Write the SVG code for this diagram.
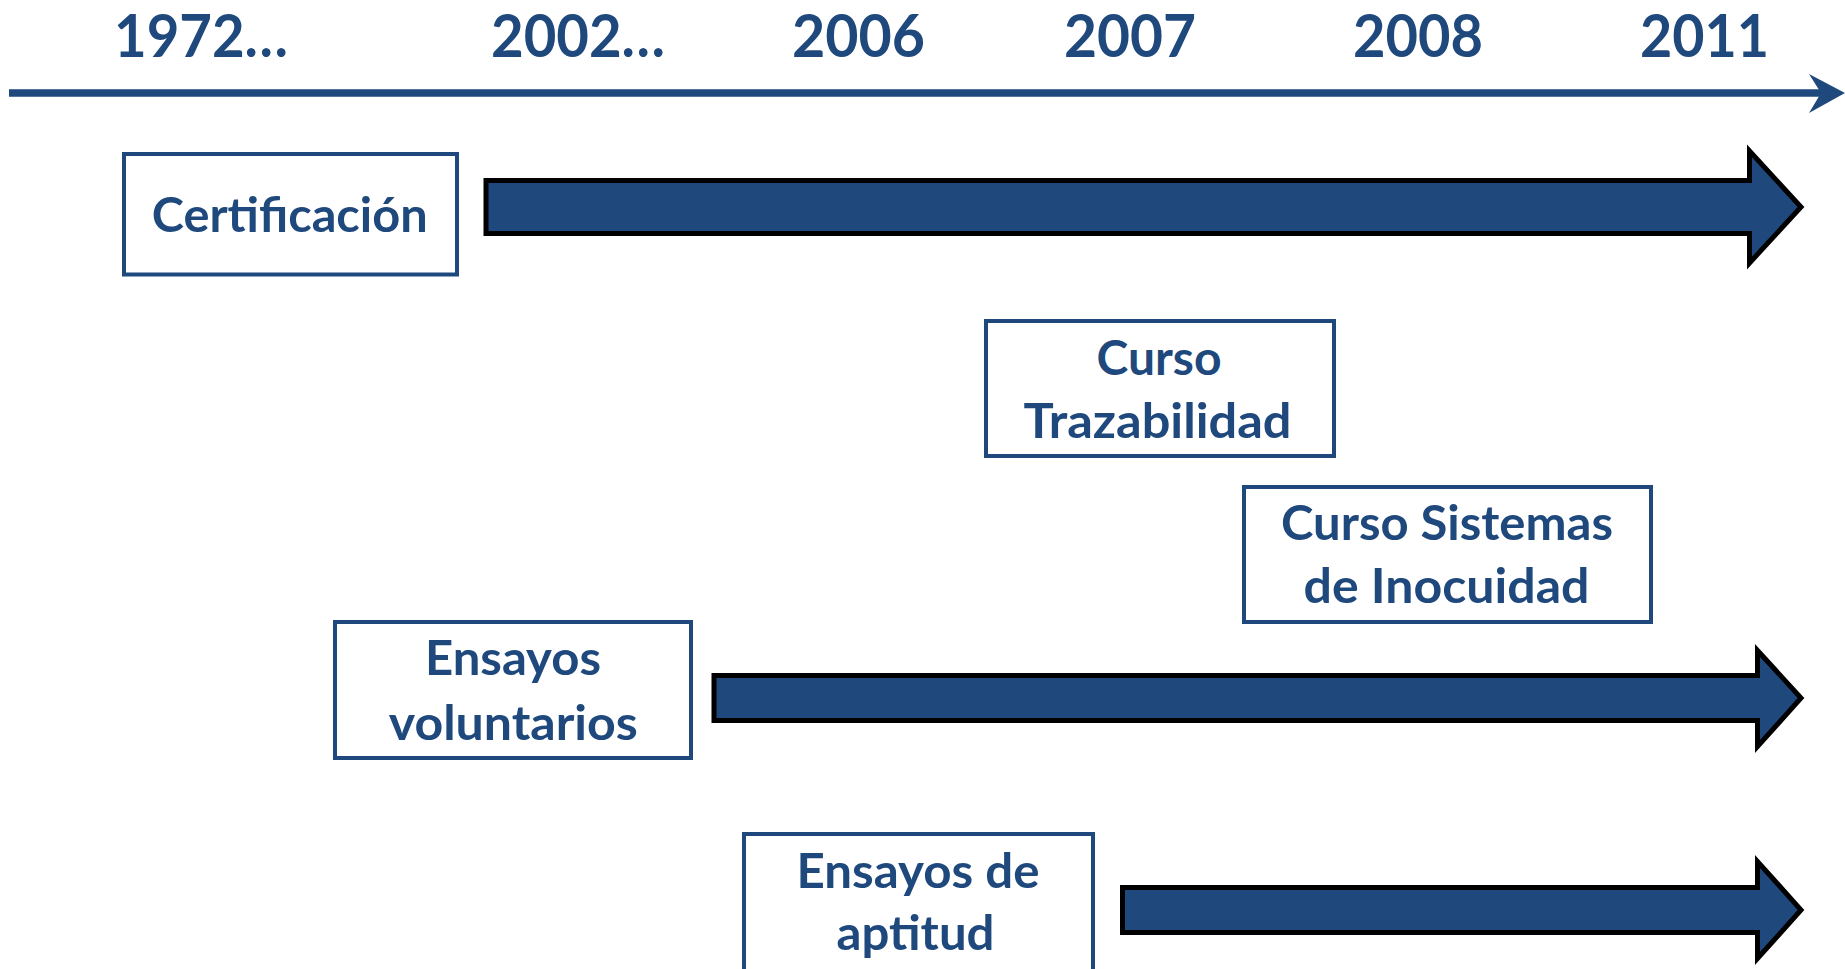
<svg xmlns="http://www.w3.org/2000/svg" width="1845" height="969" viewBox="0 0 1845 969">
<style>
.yr{font-family:Lato,"Liberation Sans",sans-serif;font-weight:700;font-size:58.6px;fill:#1F497D;text-anchor:middle}
.lb{font-family:Lato,"Liberation Sans",sans-serif;font-weight:700;font-size:47.5px;fill:#1F497D;text-anchor:middle}
.box{fill:#FFFFFF;stroke:#1F497D;stroke-width:4}
.barr{fill:#1F497D;stroke:#000000;stroke-width:5;stroke-linejoin:miter;stroke-miterlimit:10}
</style>
<rect width="1845" height="969" fill="#FFFFFF"/>
<g id="timeline">
<line x1="9" y1="93" x2="1822" y2="93" stroke="#1F497D" stroke-width="7.5"/>
<polygon points="1845,93 1809,74 1821,93 1809,113" fill="#1F497D"/>
<text class="yr" x="201" y="57" textLength="174" lengthAdjust="spacingAndGlyphs">1972…</text>
<text class="yr" x="578" y="57" textLength="174" lengthAdjust="spacingAndGlyphs">2002…</text>
<text class="yr" x="858.5" y="57" textLength="133" lengthAdjust="spacingAndGlyphs">2006</text>
<text class="yr" x="1130" y="57" textLength="132" lengthAdjust="spacingAndGlyphs">2007</text>
<text class="yr" x="1418" y="57" textLength="130" lengthAdjust="spacingAndGlyphs">2008</text>
<text class="yr" x="1704.5" y="57" textLength="129" lengthAdjust="spacingAndGlyphs">2011</text>
</g>
<g id="certificacion">
<rect class="box" x="124" y="154" width="333" height="120.5"/>
<text class="lb" x="289.7" y="231.7" textLength="276" lengthAdjust="spacingAndGlyphs">Certificación</text>
</g>
<g id="curso-trazabilidad">
<rect class="box" x="986" y="321" width="348" height="135"/>
<text class="lb" x="1159" y="375" textLength="125" lengthAdjust="spacingAndGlyphs">Curso</text>
<text class="lb" x="1157.5" y="437.7" textLength="268" lengthAdjust="spacingAndGlyphs">Trazabilidad</text>
</g>
<g id="curso-sistemas">
<rect class="box" x="1244" y="487" width="407" height="135"/>
<text class="lb" x="1447" y="540" textLength="332" lengthAdjust="spacingAndGlyphs">Curso Sistemas</text>
<text class="lb" x="1446.5" y="603.3" textLength="286" lengthAdjust="spacingAndGlyphs">de Inocuidad</text>
</g>
<g id="ensayos-voluntarios">
<rect class="box" x="335" y="622" width="356" height="136"/>
<text class="lb" x="513" y="675.3" textLength="176" lengthAdjust="spacingAndGlyphs">Ensayos</text>
<text class="lb" x="513.3" y="740.3" textLength="249" lengthAdjust="spacingAndGlyphs">voluntarios</text>
</g>
<g id="ensayos-aptitud">
<rect class="box" x="744" y="834" width="349" height="150"/>
<text class="lb" x="918" y="887.7" textLength="243" lengthAdjust="spacingAndGlyphs">Ensayos de</text>
<text class="lb" x="915.5" y="950" textLength="158" lengthAdjust="spacingAndGlyphs">aptitud</text>
</g>
<g id="connectors">
<polygon class="barr" points="486,180.5 1749.5,180.5 1749.5,151 1801,207 1749.5,263 1749.5,233.5 486,233.5"/>
<polygon class="barr" points="714,675.5 1757.5,675.5 1757.5,650.5 1801,698 1757.5,746.5 1757.5,720.5 714,720.5"/>
<polygon class="barr" points="1122.5,887.5 1757.5,887.5 1757.5,861.5 1801,910 1757.5,958.5 1757.5,932.5 1122.5,932.5"/>
</g>
</svg>
